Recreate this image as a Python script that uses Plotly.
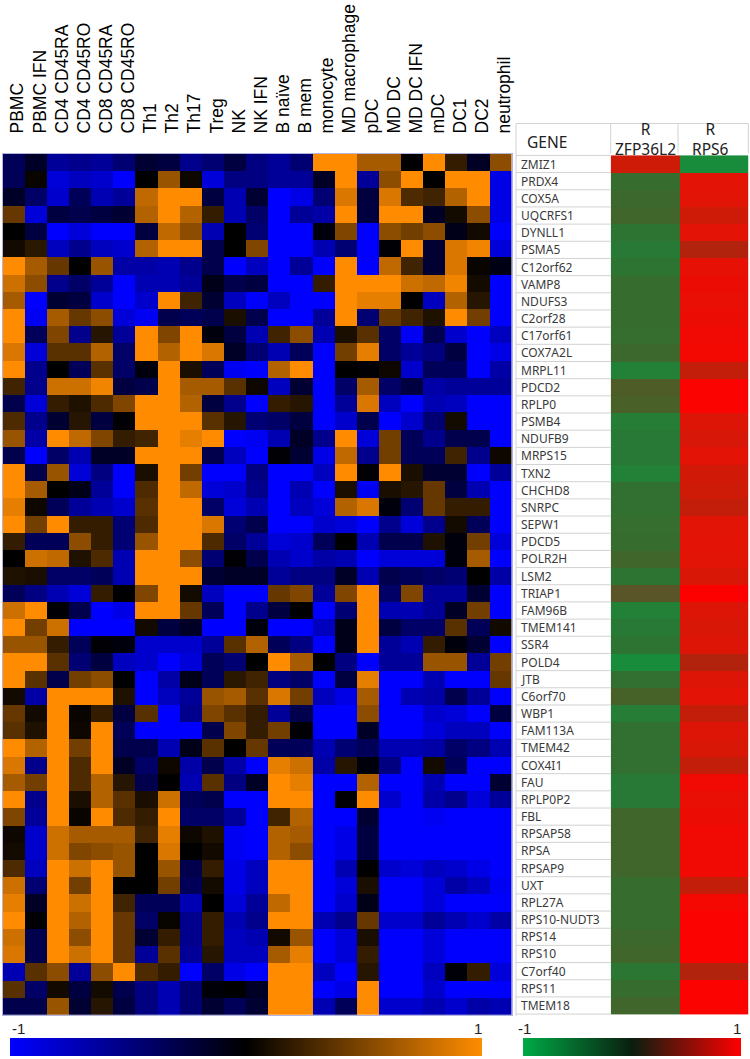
import plotly.graph_objects as go

W, H = 750, 1059

cell_types = ["PBMC", "PBMC IFN", "CD4 CD45RA", "CD4 CD45RO", "CD8 CD45RA", "CD8 CD45RO", "Th1", "Th2", "Th17",
              "Treg", "NK", "NK IFN", "B naïve", "B mem", "monocyte", "MD macrophage", "pDC", "MD DC", "MD DC IFN",
              "mDC", "DC1", "DC2", "neutrophil"]

genes = ["ZMIZ1", "PRDX4", "COX5A", "UQCRFS1", "DYNLL1", "PSMA5", "C12orf62", "VAMP8", "NDUFS3", "C2orf28",
         "C17orf61", "COX7A2L", "MRPL11", "PDCD2", "RPLP0", "PSMB4", "NDUFB9", "MRPS15", "TXN2", "CHCHD8",
         "SNRPC", "SEPW1", "PDCD5", "POLR2H", "LSM2", "TRIAP1", "FAM96B", "TMEM141", "SSR4", "POLD4",
         "JTB", "C6orf70", "WBP1", "FAM113A", "TMEM42", "COX4I1", "FAU", "RPLP0P2", "FBL", "RPSAP58",
         "RPSA", "RPSAP9", "UXT", "RPL27A", "RPS10-NUDT3", "RPS14", "RPS10", "C7orf40", "RPS11", "TMEM18"]

expression = [
    [-.35,-.15,-.6,-.55,-.6,-.45,-.2,-.25,-.55,-.45,-.25,-.5,-.6,-.45,1,1,.65,.65,0,1,.2,-.15,.55],
    [-.35,.03,-.85,-.75,-.8,-1,0,.6,.05,-.85,-.5,-.5,-.6,-.6,-.15,1,-.6,.55,1,0,1,1,-.9],
    [-.15,-.4,-.8,-.35,-.7,-.6,.75,1,1,-.25,-.7,-.2,-1,-.9,-.45,.85,-.25,.85,.3,.25,.7,1,-.9],
    [.4,-.85,-.25,-.3,-.25,-.2,.7,1,.7,.2,-.7,-.4,-1,-.6,-.65,1,-.25,1,1,-.15,.08,.55,-.9],
    [0,-.25,-1,-.85,-1,-1,-.25,.75,.55,-.7,0,-.45,-1,-1,-.05,.5,-1,.55,.45,.55,-.1,.07,-1],
    [.07,.17,-.75,-.55,-.75,-.8,.7,1,1,-.3,0,.5,-1,-1,-.7,-.45,-1,-.02,1,-.2,.85,.95,-.85],
    [1,.65,.4,0,.6,-.65,-.65,-.7,-.55,-.3,-1,-.75,-1,-.6,-1,1,-1,.75,.25,-.2,.85,.03,-.08],
    [.8,.55,-.55,-.4,-.6,-1,-.7,-.7,-.6,-.1,-.3,-.25,-1,-1,.2,1,1,1,.8,.75,.95,.08,-1],
    [.65,-1,-.2,-.25,-.8,-1,-.8,1,.25,-.2,-.75,-1,-.75,-1,-1,1,.9,.9,0,-.75,.7,.15,-1],
    [1,-.95,.65,.4,.55,-.85,-.95,-.3,-.35,-.3,.1,-.3,-1,-1,-.6,1,-.45,.4,.25,.12,1,.45,-1],
    [1,-.35,.5,-.55,.15,-.6,1,.5,1,-.05,-.25,-.7,.25,.55,-.7,.1,.35,-.4,-.95,-.3,-.8,-1,-.75],
    [.85,-.85,.35,.35,.7,-.4,1,.7,1,.85,-.15,-.45,-.7,-.35,-1,.45,.9,-.4,-.6,-.5,-.25,-1,-.9],
    [1,-.55,0,-.35,.35,-.4,-.05,1,.1,-.35,-.95,-1,.7,1,-1,0,-.02,.05,-.8,-.35,-.35,-1,-.65],
    [.25,-.55,.8,.8,.95,-.25,-.3,1,.65,.65,.35,.05,-.75,-.2,-1,-.4,.65,-.4,-.25,-.65,-.6,-.6,-.6],
    [-.3,-.85,.2,.12,.3,.5,1,1,.7,-.25,-.55,-1,.2,.15,-1,-.6,.85,-.75,-1,-.7,-.75,-1,-1],
    [.3,-.55,-.2,.15,-.25,-.02,1,1,1,.35,.15,-.45,-.4,-.25,-1,-.8,-.3,-1,-.8,-.45,.08,-1,-1],
    [.6,-.65,1,.75,.5,.2,.25,1,.9,1,-1,-.95,-.7,-.15,-.55,1,-.85,.45,-.35,-.55,-.3,-.3,-1],
    [-.3,-1,-.4,-.7,-.15,-.15,1,1,1,-.3,-.75,-1,-.02,-.2,-.9,.75,-.55,.45,-.35,-.35,.25,-.55,.05],
    [1,-.3,.6,-.85,-.5,-1,.1,1,.45,-1,-1,-.5,-1,-1,-.75,1,-.02,1,.1,-.2,-.2,-1,-.6],
    [1,.65,0,-.1,-.6,-1,.3,1,.75,-.85,-.8,-.55,-1,-.7,-1,.1,-.95,.1,.15,.4,-.25,-.7,-1],
    [.9,.05,-.35,-.6,-.7,-.8,.35,1,1,-.4,-.85,-.7,-1,-.75,-.85,.7,.85,-.05,-.45,.4,.2,.2,-1],
    [1,.45,1,.2,.2,-.45,.3,1,1,.85,-.45,-.3,-1,-1,-.8,-.85,-1,-.55,-.85,-.55,.08,-.35,-1],
    [.2,-.35,-.35,.55,.2,-.45,.6,1,1,.3,-.4,-.6,-.85,-.8,-.35,0,-.7,-.3,-.3,.12,-.05,.45,-.85],
    [0,.8,.75,.12,.3,-.7,1,1,.55,-.45,-.02,-.3,-.7,-.8,-.65,-.7,-1,-.85,-.85,-.85,-.05,.65,-1],
    [.12,.1,-.4,-.4,-.35,-.7,1,1,1,-.2,-.15,-.15,-.6,-.5,-.5,-.15,-.7,-.3,-.35,-.4,-.45,0,-.65],
    [-.35,-.5,-.7,-.85,.2,0,.5,1,.08,-.75,-1,-1,.4,.5,-.6,.5,1,-.4,.5,-.6,-.6,-.2,-1],
    [.8,1,-.02,-.3,-1,-.9,1,1,.4,-.35,-1,-.55,-.25,0,-1,-.45,1,-.7,-.7,-.6,-.15,.45,-1],
    [1,.45,.8,-1,-1,-1,.07,-.25,-.15,-1,-1,-.05,-1,-1,-.75,-.1,1,-.25,-.4,-.4,.35,-.35,.07],
    [.6,.6,.2,-.35,-.02,-.05,-.8,-.8,-.8,-.6,.35,.7,-.35,-.5,-1,-.1,1,-.6,-.7,.2,-.05,-.2,-1],
    [1,1,.35,-.45,-.25,-.75,-.8,-1,-.85,-.35,-.45,0,1,.65,0,-.5,-1,-.6,-.6,.6,.6,-.6,.45],
    [1,.35,-.3,.45,.55,0,-1,-.65,-.1,-.35,.17,.25,-.5,-.4,-1,-.25,.9,-1,-1,-.7,-1,-1,.4],
    [.07,-.65,1,1,1,.12,-1,-.75,-.6,.6,.65,.35,.85,.45,-.75,-.9,.65,-1,-.7,-.65,-.3,-.6,-1],
    [.4,.07,1,.03,.2,-.25,.35,-1,-.55,.5,.35,.2,-.6,-.3,-1,-1,.55,-1,-1,-.8,-.85,-1,-.25],
    [.35,.12,1,.05,1,-.35,-1,-1,-1,-.3,.5,.2,.45,-.02,-1,-1,-.15,-1,-1,-.85,-.75,-.75,-1],
    [1,.7,1,.45,1,-.3,-.3,-.7,-.1,.35,0,.4,-.35,-.35,-.7,-.45,-.35,-.7,-.7,-.65,-.4,-.5,-.7],
    [.85,-.55,1,.3,1,-.15,-.4,.05,-.65,-.3,-.65,-1,.9,.8,-.65,.15,-.05,-.5,-1,.08,-.35,-1,-1],
    [.65,.45,1,.3,.7,.15,-.3,0,-.7,.35,-.5,-.15,1,.9,-1,-1,.7,-1,-1,-.7,-1,-1,-.2],
    [1,-.55,1,.1,.7,.35,.1,.8,-.35,-.3,-1,-1,1,1,-1,-.02,1,-.8,-1,-.65,-.55,-.85,-.6],
    [.5,-.6,1,.03,1,.3,.2,1,-.4,-.4,-.6,-1,.25,.7,-1,-1,-.2,-1,-1,-.95,-1,-1,-1],
    [.05,-.8,.8,.65,.65,.65,.25,.9,.05,.12,-.95,-1,.7,.65,-1,-.9,-.25,-1,-1,-1,-1,-1,-1],
    [.08,-.8,.8,.5,.55,.6,0,.85,0,.07,-.95,-1,.7,.55,-1,-.9,-.25,-1,-1,-1,-1,-1,-1],
    [.3,-.75,1,.8,1,.6,0,.6,-.3,.2,-.9,-.75,1,1,-1,-.7,0,-.8,-.85,-.75,-.8,-.9,-1],
    [.8,-.45,1,.45,1,0,0,.45,-.35,.08,-.9,-.75,1,1,-1,-.85,.1,-1,-1,-.85,-.65,-.75,-.95],
    [.9,-.15,1,.8,1,.25,-.35,-.35,-.7,0,-.85,-.6,.75,1,-1,-.8,-.1,-1,-1,-.85,-1,-1,-1],
    [1,-.02,1,.7,1,.4,-.4,.03,-.55,.2,-.7,-.55,1,1,-.7,-.55,.4,-.8,-.8,-.6,-.7,-.8,-.65],
    [.8,-.3,1,.55,1,.4,-.2,.2,-.55,.2,-.75,-.7,.07,.6,-1,-.85,.1,-1,-1,-.85,-1,-1,-1],
    [.85,-.3,1,.8,1,.4,-.6,.35,-.6,.15,-.75,-.75,.65,.9,-1,-.85,.2,-1,-1,-.85,-1,-1,-1],
    [-.7,.35,.55,-.6,.55,1,.3,.2,-1,-.4,-.9,-1,1,1,-.75,-1,.15,-1,-1,-.75,-.03,.2,-.85],
    [.35,-.4,.07,-.25,.08,-.3,-.5,-.7,-.45,-.03,0,-.15,1,1,-1,-.9,1,-1,-1,-.8,-1,-1,-1],
    [-.3,-.3,.6,-.2,.15,-.25,-.5,-.7,-.45,-.2,-.35,-.2,1,1,-.7,-.35,1,-.8,-.8,-.7,-.8,-.65,-.7],
]

r_zfp36l2 = [.6,-.55,-.52,-.5,-.6,-.65,-.6,-.55,-.55,-.55,-.56,-.52,-.7,-.44,-.46,-.68,-.65,-.65,-.7,-.58,
             -.58,-.56,-.55,-.5,-.6,-.4,-.7,-.65,-.6,-.8,-.58,-.47,-.68,-.58,-.58,-.58,-.65,-.65,-.5,-.5,
             -.5,-.5,-.55,-.55,-.55,-.52,-.5,-.62,-.55,-.5]
r_rps6 = [-.8,.72,.7,.6,.72,.45,.75,.8,.78,.8,.85,.88,.55,.95,.95,.68,.65,.72,.62,.6,
          .55,.7,.72,.7,.66,.98,.68,.66,.68,.45,.68,.72,.55,.68,.66,.55,.85,.78,.8,.85,
          .85,.85,.55,.9,.95,.95,.95,.45,.95,.95]
r_labels = ["R<br>ZFP36L2", "R<br>RPS6"]

expr_scale = [[0, "rgb(0,0,255)"], [.5, "rgb(0,0,0)"], [1, "rgb(255,140,0)"]]
legend_r_scale = [[0, "rgb(0,170,70)"], [.5, "rgb(10,30,15)"], [1, "rgb(255,0,0)"]]
cell_r_scale = [[0, "rgb(0,170,70)"], [.1, "rgb(25,140,60)"], [.2, "rgb(45,115,50)"],
                [.275, "rgb(75,95,40)"], [.3, "rgb(90,85,40)"], [.5, "rgb(110,60,25)"],
                [.7, "rgb(170,38,15)"], [.775, "rgb(195,30,10)"], [.85, "rgb(225,20,5)"], [1, "rgb(255,0,0)"]]

def px(x): return x / W
def py(y): return 1 - y / H

fig = go.Figure()
fig.add_trace(go.Heatmap(
    z=expression, x=cell_types, y=genes, zmin=-1, zmax=1, colorscale=expr_scale, xaxis="x", yaxis="y",
    hoverongaps=False,
    colorbar=dict(orientation="h", x=px(9.5), xanchor="left", y=py(1056), yanchor="bottom", len=472,
                  lenmode="pixels", thickness=18, thicknessmode="pixels", outlinewidth=0, xpad=0, ypad=0,
                  showticklabels=False, ticks="")))
fig.add_trace(go.Heatmap(
    z=[list(v) for v in zip(r_zfp36l2, r_rps6)], x=r_labels, y=genes, zmin=-1, zmax=1,
    colorscale=cell_r_scale, showscale=False, xaxis="x2", yaxis="y2"))
fig.add_trace(go.Scatter(
    x=[None, None], y=[None, None], mode="markers", xaxis="x2", yaxis="y2", showlegend=False, hoverinfo="skip",
    marker=dict(color=[-1, 1], cmin=-1, cmax=1, colorscale=legend_r_scale, showscale=True,
                colorbar=dict(orientation="h", x=px(522.7), xanchor="left", y=py(1056), yanchor="bottom", len=218,
                              lenmode="pixels", thickness=18, thicknessmode="pixels", outlinewidth=0, xpad=0, ypad=0,
                              showticklabels=False, ticks=""))))

shapes = []
line = dict(color="#d2d2d2", width=1)
tx0, tx1, tx2, tx3 = px(516), px(610.7), px(678), px(748.3)
for i in range(len(genes) + 1):
    shapes.append(dict(type="line", xref="paper", yref="y2", x0=tx0, x1=tx1, y0=i - .5, y1=i - .5, line=line))
shapes.append(dict(type="line", xref="paper", yref="paper", x0=tx0, x1=tx0, y0=py(123.5), y1=py(1016), line=line))
shapes.append(dict(type="line", xref="paper", yref="paper", x0=tx0, x1=tx3, y0=py(123.5), y1=py(123.5), line=line))
for xv in (tx1, tx2, tx3):
    shapes.append(dict(type="line", xref="paper", yref="paper", x0=xv, x1=xv, y0=py(123.5), y1=py(153.5), line=line))

annotations = []
gene_font = dict(family="Noto Sans, Liberation Sans, sans-serif", size=12, color="#3a3a3a")
for g in genes:
    annotations.append(dict(text=g, xref="paper", yref="y2", x=px(518.5), y=g, xanchor="left", yanchor="middle",
                            showarrow=False, font=gene_font))
hdr = dict(family="Noto Sans, Liberation Sans, sans-serif", size=15.5, color="#222222")
annotations.append(dict(text="GENE", xref="paper", yref="paper", x=px(547), y=py(142), xanchor="center",
                        yanchor="middle", showarrow=False, font=hdr))
for label, cx in zip(r_labels, (645, 710)):
    annotations.append(dict(text=label, xref="paper", yref="paper", x=px(cx), y=py(139), xanchor="center",
                            yanchor="middle", showarrow=False, font=hdr, align="center"))
bar_font = dict(family="Liberation Sans, sans-serif", size=15, color="#222222")
for text, xv in (("-1", 18), ("1", 478), ("-1", 524), ("1", 737)):
    annotations.append(dict(text=text, xref="paper", yref="paper", x=px(xv), y=py(1028), xanchor="center",
                            yanchor="middle", showarrow=False, font=bar_font))

border = "#b4b4e0"
fig.update_layout(
    width=W, height=H, autosize=False, margin=dict(l=0, r=0, t=0, b=0, autoexpand=False),
    paper_bgcolor="white", plot_bgcolor="white", showlegend=False, shapes=shapes, annotations=annotations,
    xaxis=dict(domain=[px(2.7), px(511.7)], side="top", type="category", tickangle=-90, ticks="",
               ticklabelstandoff=16, ticklabelshift=4, showgrid=False, zeroline=False, anchor="y",
               showline=True, linecolor=border, linewidth=1, mirror=True,
               tickfont=dict(family="Liberation Sans", size=17.5, color="#000000")),
    yaxis=dict(domain=[py(1014.7), py(154)], autorange="reversed", type="category", showticklabels=False,
               ticks="", showgrid=False, zeroline=False, anchor="x",
               showline=True, linecolor=border, linewidth=1, mirror=True),
    xaxis2=dict(domain=[tx1, tx3], type="category", showticklabels=False, ticks="", showgrid=False,
                zeroline=False, anchor="y2"),
    yaxis2=dict(domain=[py(1016), py(153.5)], autorange="reversed", type="category", showticklabels=False,
                ticks="", showgrid=False, zeroline=False, anchor="x2"),
)
fig.write_html("out.html", config=dict(displayModeBar=False),
               post_script="document.body.style.margin='0';document.documentElement.style.overflow='hidden';")
